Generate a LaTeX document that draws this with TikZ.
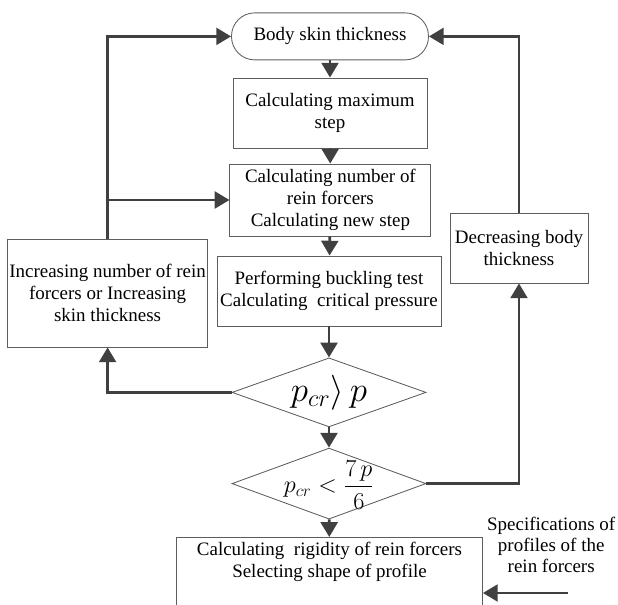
\documentclass[tikz,border=0pt]{standalone}
\usepackage{amsmath}
\usepackage{fontspec}
\setmainfont{Liberation Serif}
\usetikzlibrary{arrows.meta,shapes.geometric}
\definecolor{linegray}{HTML}{404040}
\tikzset{
    every node/.style={align=center,font=\fontsize{13.5}{15.5}\selectfont},
    block/.style={draw=linegray!85,line width=0.6pt,rectangle,inner sep=1pt},
    terminal/.style={block,rounded corners=0.58cm},
    decision/.style={draw=linegray!85,line width=0.6pt,diamond,inner sep=0pt},
    flow/.style={draw=linegray,line width=2pt,-{Triangle[length=3.7mm,width=4.2mm]}},
}

\begin{document}
\begin{tikzpicture}
                \useasboundingbox (0,0) rectangle (15.45,15.1);

                \node[terminal,minimum width=4.925cm,minimum height=1.175cm] (body) at (8.25, 14.19) {Body skin thickness};
                \node[block,minimum width=4.85cm,minimum height=1.75cm] (maxstep) at (8.25, 12.275) {Calculating maximum\\step};
                \node[block,minimum width=5.025cm,minimum height=1.8cm] (number) at (8.26, 10.1) {Calculating number of\\rein forcers\\Calculating new step};
                \node[block,minimum width=5.6cm,minimum height=1.75cm] (buckling) at (8.225, 7.825) {Performing buckling test\\Calculating\ \ critical pressure};

                \node[block,minimum width=4.875cm,minimum height=2.7cm] (increase) at (2.69, 7.775) {Increasing number of rein\\forcers or Increasing\\skin thickness};
                \node[block,minimum width=3.45cm,minimum height=1.75cm] (decrease) at (12.975, 8.9) {Decreasing body\\thickness};

                \node[decision,minimum width=4.85cm,minimum height=1.725cm,
                      label={center:\fontsize{26}{30}\selectfont$p_{cr}\rangle\, p$}] (pcrone) at (8.225, 5.29) {};
                \node[decision,minimum width=4.85cm,minimum height=1.775cm,
                      label={[yshift=-1pt]center:\fontsize{17}{20}\selectfont$p_{cr}<\dfrac{7\,p}{6}$}] (pcrtwo) at (8.225, 3.01) {};

                \node[block,minimum width=7.65cm,minimum height=2.2cm,anchor=north] (rigidity) at (8.2375, 1.675) {};
                \node (rigiditytext) at (8.2375, 1.06) {Calculating\ \ rigidity of rein forcers\\Selecting shape of profile};

                \node[font=\fontsize{13.5}{14.8}\selectfont] (specs) at (13.78, 1.48) {Specifications of\\profiles of the\\rein forcers};
                \coordinate (specsin) at (14.2, 0.275);

                \draw[flow] (body) -- (maxstep);
                \draw[flow] (maxstep) -- (number);
                \draw[flow] (number) -- (buckling);
                \draw[flow] (buckling) -- (pcrone);
                \draw[flow] (pcrone) -- (pcrtwo);
                \draw[flow] (pcrtwo) -- (rigidity);

                \draw[flow] (pcrone.west) -| (increase.south);
                \draw[flow] (increase.north) |- (body.west);
                \draw[flow] (increase.north |- number.west) -- (number.west);

                \draw[flow] (pcrtwo.east) -| (decrease.south);
                \draw[flow] (decrease.north) |- (body.east);

                \draw[flow] (specsin) -- (specsin -| rigidity.east);
            \end{tikzpicture}
\end{document}
